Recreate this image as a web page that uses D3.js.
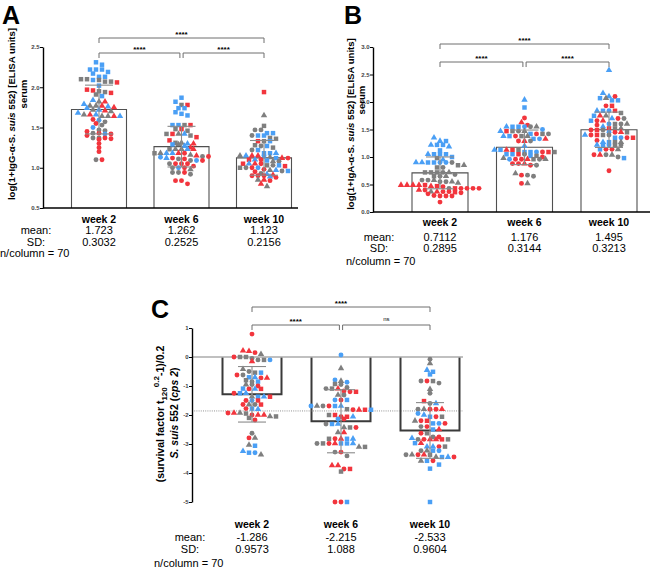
<!DOCTYPE html>
<html>
<head>
<meta charset="utf-8">
<script src="https://cdn.jsdelivr.net/npm/d3@7"></script>
<style>
  body { margin: 0; background: #fff; }
  svg { display: block; }
  text { font-family: "Liberation Sans", Arial, sans-serif; }
</style>
</head>
<body>
<div id="chart"></div>
<script>
const weeks = ["week 2", "week 6", "week 10"];

// colour + shape code: g/b/r = grey/blue/red, c/s/t = circle/square/triangle
// panel A: IgG
const igG_w2 = {
  bs: [2.31, 2.28, 2.22, 2.22, 2.22, 2.19, 2.17, 2.13, 2.13, 2.09, 2.02, 1.89],
  gs: [2.10, 2.10, 2.09, 2.07, 2.07, 1.95, 1.94, 1.91],
  rs: [2.06, 1.97, 1.96, 1.93],
  gt: [1.82, 1.77, 1.77, 1.72, 1.70, 1.66, 1.64, 1.64],
  rt: [1.82, 1.77, 1.75, 1.71, 1.66, 1.64],
  bt: [1.84, 1.79, 1.76, 1.74, 1.72, 1.68, 1.66, 1.64],
  bc: [1.59, 1.50, 1.42],
  gc: [1.57, 1.53, 1.47, 1.46, 1.43, 1.37, 1.37, 1.10],
  rc: [1.60, 1.55, 1.45, 1.43, 1.42, 1.40, 1.37, 1.36, 1.35, 1.30, 1.25, 1.20, 1.10]
};
const igG_w6 = {
  bs: [1.87, 1.82, 1.74, 1.74, 1.69, 1.67, 1.65, 1.53, 1.53, 1.29],
  gs: [1.78, 1.53, 1.48, 1.46, 1.42, 1.40, 1.31, 1.23, 1.18],
  rs: [1.78, 1.53, 1.48, 1.42, 1.38, 1.34],
  gt: [1.42, 1.31, 1.29, 1.23, 1.23, 1.18, 1.16, 0.98],
  bt: [1.42, 1.30, 1.27, 1.23, 1.18, 1.18, 1.12],
  rt: [1.30, 1.25, 1.23, 1.18, 1.15],
  gc: [1.14, 1.11, 1.09, 1.05, 1.00, 0.94, 0.94, 0.92],
  bc: [1.13, 1.09, 1.00],
  rc: [1.18, 1.14, 1.12, 1.11, 1.09, 1.05, 1.05, 1.05, 1.02, 1.00, 0.94, 0.84, 0.84, 0.80]
};
const igG_w10 = {
  rs: [1.94, 1.33, 1.10, 1.05, 1.02],
  gt: [1.65, 1.15, 1.13, 1.08, 0.97, 0.85, 0.77],
  gs: [1.52, 1.37, 1.36, 1.33, 1.28, 1.25, 1.03, 1.00],
  gc: [1.47, 1.47, 1.40, 1.27, 1.22, 1.08, 1.03, 1.00, 0.96, 0.93],
  bs: [1.43, 1.43, 1.40, 1.40, 1.33, 1.27, 1.22, 1.18, 1.18, 1.12, 1.09, 1.03, 0.96],
  bt: [1.18, 1.15, 1.10, 1.05, 0.97, 0.92, 0.89],
  rt: [1.15, 1.15, 1.12, 1.05, 0.91, 0.85, 0.80],
  rc: [1.12, 1.10, 1.05, 1.00, 0.98, 0.95, 0.90, 0.90, 0.90, 0.88, 0.84],
  bc: [1.15, 1.00]
};
const igG_mean = [1.723, 1.262, 1.123];
const igG_sd = [0.3032, 0.2525, 0.2156];

// panel B: IgA
const igA_w2 = {
  bt: [1.35, 1.29, 1.22, 1.19, 1.05, 0.95, 0.90, 0.90],
  bs: [1.29, 1.22, 1.22, 1.12, 1.05, 1.05, 1.05, 1.00, 0.90, 0.90],
  bc: [0.90, 0.90],
  gs: [0.98, 0.85, 0.81, 0.72, 0.72, 0.72, 0.65],
  gc: [0.90, 0.81, 0.72, 0.68, 0.65, 0.58, 0.58, 0.55, 0.55, 0.43],
  gt: [0.85, 0.72, 0.65, 0.58, 0.55, 0.53, 0.37],
  rt: [0.49, 0.49, 0.49, 0.49, 0.47, 0.40, 0.37],
  rs: [0.49, 0.47, 0.43, 0.36],
  rc: [0.46, 0.43, 0.43, 0.43, 0.43, 0.40, 0.37, 0.37, 0.35, 0.33, 0.30, 0.29, 0.29, 0.29, 0.18]
};
const igA_w6 = {
  bt: [2.04, 1.55, 1.47, 1.38, 1.20, 1.13],
  bs: [1.90, 1.55, 1.55, 1.42, 1.38, 1.33, 1.13, 1.09, 1.09, 1.05, 1.05, 1.02],
  bc: [1.55, 1.50, 1.33, 1.09, 0.96],
  rc: [1.71, 1.58, 1.42, 1.38, 1.29, 1.09, 1.00, 0.96, 0.96, 0.88, 0.88, 0.85, 0.67, 0.52],
  rt: [1.63, 1.33, 1.29, 1.13, 0.96, 0.88],
  rs: [1.47, 1.13, 1.09, 1.05],
  gs: [1.47, 1.42, 1.38, 1.13, 1.09, 1.02, 0.96],
  gc: [1.55, 1.47, 1.42, 1.29, 1.05, 0.96, 0.85, 0.67, 0.65],
  gt: [1.55, 1.47, 1.38, 0.98, 0.96, 0.70, 0.52]
};
const igA_w10 = {
  bt: [2.58, 2.16, 2.10, 1.84, 1.70, 1.55, 1.40, 1.27, 1.22],
  bs: [2.07, 2.03, 2.03, 1.84, 1.75, 1.66, 1.35, 1.27, 1.22, 1.14, 0.98],
  bc: [1.84, 1.60, 1.45, 1.35, 1.22],
  rc: [2.10, 1.93, 1.70, 1.66, 1.58, 1.49, 1.45, 1.40, 1.35, 1.30, 1.14, 1.14, 1.04, 0.75],
  rs: [1.93, 1.84, 1.52, 1.49, 1.40, 1.35],
  rt: [1.75, 1.66, 1.45, 1.04],
  gs: [1.80, 1.60, 1.52, 1.45, 1.40, 1.27, 1.22],
  gc: [1.70, 1.60, 1.49, 1.40, 1.22, 1.04, 1.00],
  gt: [2.07, 1.75, 1.60, 1.52, 1.27, 1.14, 1.04]
};
const igA_mean = [0.7112, 1.176, 1.495];
const igA_sd = [0.2895, 0.3144, 0.3213];

// panel C: survival factor
const surv_w2 = {
  rc: [0.79, 0.15, 0.00, -0.62, -0.72, -1.00, -1.10, -1.25, -1.50, -1.64, -1.78, -1.93, -2.00, -2.17, -2.79],
  rt: [0.22, 0.20, -0.15, -0.72, -2.00, -2.00, -1.93],
  gt: [0.10, -0.42, -0.95, -1.37, -1.64, -1.93, -2.05, -2.79, -3.03, -3.37],
  gc: [-0.05, -0.10, -0.50, -0.62, -0.85, -0.95, -1.64, -2.63],
  gs: [0.00, 0.00, -0.10, -0.54, -0.80, -1.95, -2.05, -2.10],
  bs: [-0.54, -0.70, -0.85, -1.09, -1.25, -1.37, -1.78, -3.06, -3.30],
  bt: [-0.70, -1.10, -1.25, -1.37, -1.80, -3.25],
  bc: [-0.10, -1.50, -3.30],
  rs: [-1.10, -1.37, -1.50, -1.64]
};
const surv_w6 = {
  bc: [0.07, -0.79, -0.87, -1.48, -2.14, -1.69],
  gt: [-0.39, -0.83, -1.31, -1.69, -2.60, -3.10, -2.43],
  gc: [-0.95, -1.05, -1.09, -1.31, -1.69, -2.31, -2.98, -3.28, -3.41],
  gs: [-0.93, -1.09, -1.80, -2.00, -2.43, -2.82, -2.98, -3.10, -3.95],
  rc: [-1.17, -1.20, -1.48, -1.69, -1.82, -2.06, -2.14, -2.43, -2.82, -2.98, -3.28, -3.86, -5.00, -5.00],
  rt: [-1.09, -1.82, -2.60, -2.82, -2.98, -3.74, -3.74],
  rs: [-1.20, -1.82, -2.00, -2.06, -3.86],
  bs: [-1.48, -1.69, -1.82, -2.31, -2.82, -2.98, -2.98, -5.00],
  bt: [-1.69, -2.06, -2.31, -2.82, -2.98]
};
const surv_w10 = {
  gc: [-0.08, -0.83, -0.90, -1.25, -1.60, -1.80, -2.40, -2.76, -2.84, -3.23, -3.37],
  gt: [-0.22, -1.11, -1.80, -2.20, -3.23, -3.45, -3.58, -3.37],
  bs: [-0.51, -0.60, -2.06, -2.29, -2.50, -2.97, -3.23, -3.45, -3.58, -3.71, -3.85, -5.00],
  bt: [-0.45, -1.60, -2.00, -2.80, -3.09, -3.09, -3.45],
  bc: [-1.95, -2.29, -3.23],
  rc: [-0.83, -1.80, -1.80, -2.06, -2.20, -2.29, -2.40, -2.63, -2.76, -2.84, -3.09, -3.37, -3.45, -3.58],
  rt: [-1.80, -2.50, -2.84, -2.84, -2.97, -3.37],
  rs: [-1.52, -2.20, -2.84],
  gs: [-0.83, -2.06, -2.63, -2.84, -3.09, -3.37]
};
const surv_mean = [-1.286, -2.215, -2.533];
const surv_sd = [0.9573, 1.088, 0.9604];
const surv_dotted = -1.86;

const colors = { g: "#7f7f7f", b: "#4a9ff5", r: "#f2353d" };
const shapes = { c: d3.symbolCircle, s: d3.symbolSquare, t: d3.symbolTriangle };
const sizes = { c: 19, s: 20, t: 18 };

const width = 669;
const height = 569;
const FONT = "'Liberation Sans', Arial, sans-serif";

const svg = d3.select("#chart").append("svg")
  .attr("width", width).attr("height", height)
  .attr("viewBox", [0, 0, width, height]);

// GraphPad-like scatter: points with close values share a row, spread sideways
function swarm(col, y, cx) {
  const rowH = 3.8, dx = 6;
  const pts = [];
  Object.entries(col).forEach(([code, vals]) => {
    vals.forEach((v) => pts.push({ v, code, py: y(v) }));
  });
  pts.sort((a, b) => a.py - b.py);
  let row = null;
  const rows = [];
  pts.forEach((p) => {
    if (!row || p.py - row.start > rowH) {
      row = { start: p.py, items: [] };
      rows.push(row);
    }
    row.items.push(p);
  });
  rows.forEach((r) => {
    const n = r.items.length;
    r.items.forEach((p, i) => (p.px = cx + (i - (n - 1) / 2) * dx));
  });
  return pts;
}

function drawPanel(p) {
  const g = svg.append("g");
  const x = d3.scalePoint().domain(weeks).range(p.xRange);
  const y = d3.scaleLinear().domain(p.yDomain).range(p.yRange);
  const base = p.base;
  const half = p.barW / 2;

  // bars (open at the baseline side)
  g.append("g").selectAll("path")
    .data(p.mean)
    .join("path")
    .attr("d", (m, i) => {
      const cx = x(weeks[i]);
      return `M${cx - half},${y(base)}V${y(m)}H${cx + half}V${y(base)}`;
    })
    .attr("fill", p.barFill)
    .attr("stroke", p.barStroke)
    .attr("stroke-width", p.barStrokeW);

  if (p.zeroLine) {
    g.append("line")
      .attr("x1", p.axisX).attr("x2", p.lineEnd)
      .attr("y1", y(0)).attr("y2", y(0))
      .attr("stroke", "#ababab").attr("stroke-width", 1.6);
    g.append("line")
      .attr("x1", p.axisX).attr("x2", p.lineEnd)
      .attr("y1", y(p.dotted)).attr("y2", y(p.dotted))
      .attr("stroke", "#777").attr("stroke-width", 0.8)
      .attr("stroke-dasharray", "1,1.2");
  }

  // points
  p.cols.forEach((col, i) => {
    const pts = swarm(col, y, x(weeks[i]));
    g.append("g").selectAll("path")
      .data(pts)
      .join("path")
      .attr("transform", (d) => `translate(${d.px},${d.py})`)
      .attr("d", (d) => d3.symbol(shapes[d.code[1]], sizes[d.code[1]])())
      .attr("fill", (d) => colors[d.code[0]]);
  });

  // error bars: mean +/- SD
  const eb = g.append("g").attr("stroke", "#8a8a8a").attr("stroke-width", 1.1);
  p.mean.forEach((m, i) => {
    const cx = x(weeks[i]);
    const lo = y(m - p.sd[i]);
    const hi = y(m + p.sd[i]);
    eb.append("line").attr("x1", cx).attr("x2", cx).attr("y1", lo).attr("y2", hi);
    [lo, hi].forEach((yy) =>
      eb.append("line").attr("x1", cx - 14).attr("x2", cx + 14).attr("y1", yy).attr("y2", yy)
    );
  });

  // y axis
  const yAxis = d3.axisLeft(y)
    .tickValues(p.ticks)
    .tickSize(3)
    .tickSizeOuter(0)
    .tickFormat(p.fmt);
  g.append("g")
    .attr("transform", `translate(${p.axisX},0)`)
    .call(yAxis)
    .call((a) => {
      a.select(".domain").attr("stroke", "#000").attr("stroke-width", 1.4);
      a.selectAll(".tick line").attr("stroke", "#000").attr("stroke-width", 1);
      a.selectAll(".tick text")
        .attr("font-family", FONT).attr("font-size", 6).attr("font-weight", "bold")
        .attr("fill", "#444").attr("x", -3.5);
    });

  // x axis baseline
  if (!p.zeroLine) {
    g.append("line")
      .attr("x1", p.axisX).attr("x2", p.lineEnd)
      .attr("y1", y(p.yDomain[0])).attr("y2", y(p.yDomain[0]))
      .attr("stroke", "#000").attr("stroke-width", 1.4);
  }

  // significance brackets
  const br = g.append("g").attr("stroke", "#6e6e6e").attr("stroke-width", 1).attr("fill", "none");
  p.brackets.forEach(([a, b, yy, label]) => {
    let x1 = x(weeks[a]);
    let x2 = x(weeks[b]);
    if (b - a === 1) {
      if (a === 1) x1 += 1.6; else x2 -= 1.6;
    }
    br.append("path").attr("d", `M${x1},${yy + 5}V${yy}H${x2}V${yy + 5}`);
    g.append("text")
      .attr("x", (x1 + x2) / 2)
      .attr("y", label === "ns" ? yy - 4 : yy - 1.5)
      .attr("text-anchor", "middle")
      .attr("font-size", label === "ns" ? 6 : 8)
      .attr("font-weight", label === "ns" ? "normal" : "bold")
      .attr("fill", "#000")
      .text(label);
  });

  // category labels and stats rows
  const rows = g.append("g").attr("font-family", FONT).attr("fill", "#000");
  weeks.forEach((w, i) => {
    rows.append("text").attr("x", x(w)).attr("y", p.rowY[0])
      .attr("text-anchor", "middle").attr("font-size", 10.5).attr("font-weight", "bold").text(w);
    rows.append("text").attr("x", x(w)).attr("y", p.rowY[1])
      .attr("text-anchor", "middle").attr("font-size", 11).text(String(p.mean[i]));
    rows.append("text").attr("x", x(w)).attr("y", p.rowY[2])
      .attr("text-anchor", "middle").attr("font-size", 11).text(String(p.sd[i]));
  });
  rows.append("text").attr("x", p.labX).attr("y", p.rowY[1])
    .attr("text-anchor", "middle").attr("font-size", 11).text("mean:");
  rows.append("text").attr("x", p.labX).attr("y", p.rowY[2])
    .attr("text-anchor", "middle").attr("font-size", 11).text("SD:");
  rows.append("text").attr("x", p.nX).attr("y", p.rowY[3])
    .attr("font-size", 11).text("n/column = 70");

  // panel letter
  g.append("text").attr("x", p.letter[0]).attr("y", p.letter[1])
    .attr("font-size", 25).attr("font-weight", "bold").text(p.letter[2]);

  // y title
  const t = g.append("g")
    .attr("font-family", FONT).attr("font-weight", "bold").attr("font-size", 9.6)
    .attr("text-anchor", "middle");
  p.title(t);
}

function igTitle(iso, cx, cy, cx2, cy2) {
  return (t) => {
    const l1 = t.append("text")
      .attr("transform", `translate(${cx},${cy}) rotate(-90)`);
    l1.append("tspan").text(`log(1+Ig${iso}-\u03b1-S. `);
    l1.append("tspan").attr("font-style", "italic").text("suis");
    l1.append("tspan").text(" 552) [ELISA units]");
    t.append("text").attr("transform", `translate(${cx2},${cy2}) rotate(-90)`).text("serum");
  };
}

drawPanel({
  cols: [igG_w2, igG_w6, igG_w10], mean: igG_mean, sd: igG_sd,
  xRange: [99, 264], barW: 55, yDomain: [0.5, 2.5], yRange: [208, 47],
  ticks: [0.5, 1.0, 1.5, 2.0, 2.5], fmt: d3.format(".1f"), base: 0.5,
  axisX: 43, lineEnd: 298,
  barFill: "#fff", barStroke: "#505050", barStrokeW: 1.1,
  brackets: [[0, 2, 38, "****"], [0, 1, 53, "****"], [1, 2, 53, "****"]],
  rowY: [223, 234, 246, 257], labX: 36, nX: 0,
  letter: [2, 24, "A"],
  title: igTitle("G", 15, 114, 27, 94)
});

drawPanel({
  cols: [igA_w2, igA_w6, igA_w10], mean: igA_mean, sd: igA_sd,
  xRange: [440, 609], barW: 56, yDomain: [0, 3], yRange: [212, 47],
  ticks: [0, 0.5, 1.0, 1.5, 2.0, 2.5, 3.0], fmt: d3.format(".1f"), base: 0,
  axisX: 373, lineEnd: 650,
  barFill: "#fff", barStroke: "#505050", barStrokeW: 1.1,
  brackets: [[0, 2, 44, "****"], [0, 1, 62, "****"], [1, 2, 62, "****"]],
  rowY: [226, 241, 252, 265], labX: 379, nX: 346,
  letter: [344, 24, "B"],
  title: igTitle("A", 354, 124, 365, 100)
});

drawPanel({
  cols: [surv_w2, surv_w6, surv_w10], mean: surv_mean, sd: surv_sd,
  xRange: [252, 430], barW: 59, yDomain: [-5, 1], yRange: [502, 328],
  ticks: [-5, -4, -3, -2, -1, 0, 1], fmt: (d) => String(d), base: 0,
  axisX: 192, lineEnd: 463, zeroLine: true, dotted: surv_dotted,
  barFill: "none", barStroke: "#3a3a3a", barStrokeW: 2,
  brackets: [[0, 2, 307, "****"], [0, 1, 325, "****"], [1, 2, 325, "ns"]],
  rowY: [528, 541, 553, 567], labX: 190, nX: 154,
  letter: [151, 318, "C"],
  title: (t) => {
    const l1 = t.append("text").attr("transform", "translate(164,414) rotate(-90)")
      .attr("font-size", 10.5);
    l1.append("tspan").text("(survival  factor t");
    l1.append("tspan").attr("font-size", 8).attr("dy", 3).text("120");
    l1.append("tspan").attr("font-size", 8).attr("dy", -8).text("0.2");
    l1.append("tspan").attr("dy", 5).text("-1)/0.2");
    const l2 = t.append("text").attr("transform", "translate(178,413) rotate(-90)")
      .attr("font-size", 10.5);
    l2.append("tspan").attr("font-style", "italic").text("S. suis");
    l2.append("tspan").text(" 552  (");
    l2.append("tspan").attr("font-style", "italic").text("cps 2");
    l2.append("tspan").text(")");
  }
});
</script>
</body>
</html>
